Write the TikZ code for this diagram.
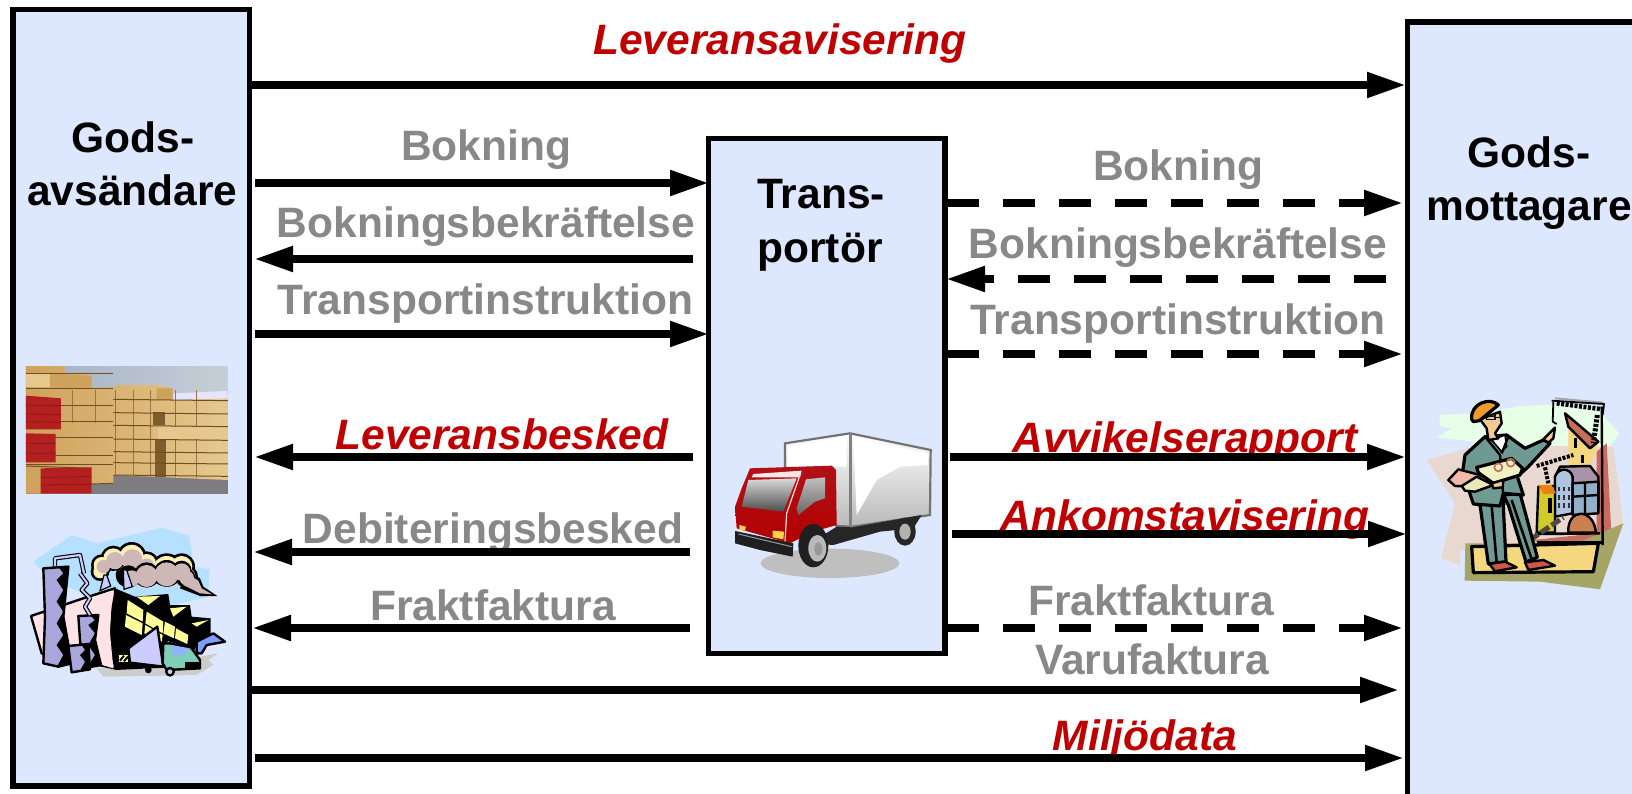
\documentclass[tikz,border=0pt]{standalone}
\usepackage{fontspec}
\setmainfont{Liberation Sans}
\usetikzlibrary{arrows.meta}
\definecolor{boxfill}{HTML}{DDE8FF}
\definecolor{greytxt}{HTML}{888888}
\definecolor{redtxt}{HTML}{C00000}
\definecolor{wood}{HTML}{D9B26E}
\definecolor{woodl}{HTML}{E6C88E}
\definecolor{woodm}{HTML}{CFA25C}
\definecolor{woodd}{HTML}{6E4E22}
\definecolor{woodred}{HTML}{B3201F}
\definecolor{woodrd}{HTML}{8C1815}
\definecolor{skyb}{HTML}{B5E0FF}
\definecolor{stack}{HTML}{A9A6DC}
\definecolor{smoke}{HTML}{CDB7B7}
\definecolor{creamc}{HTML}{FBF0B8}
\definecolor{pinkw}{HTML}{FFE3E6}
\definecolor{yellw}{HTML}{FFFF99}
\definecolor{tealc}{HTML}{80CDB8}
\definecolor{lil}{HTML}{CCCCFF}
\definecolor{suit}{HTML}{6F9A94}
\definecolor{helmet}{HTML}{EE9B2C}
\definecolor{skin}{HTML}{F3C992}
\definecolor{mint}{HTML}{E6FFE6}
\definecolor{beige}{HTML}{E8D8D0}
\definecolor{oliv}{HTML}{A5A566}
\definecolor{sandc}{HTML}{F5D77F}
\definecolor{rust}{HTML}{C76A60}
\definecolor{cabred}{HTML}{B01218}
\definecolor{skytop}{HTML}{A3AFC6}
\definecolor{skybot}{HTML}{C6CFD6}
\definecolor{ground}{HTML}{7E7C80}
\definecolor{tower}{HTML}{A893A8}
\definecolor{towerl}{HTML}{AFC4E0}
\definecolor{towerr}{HTML}{8FB0C8}
\definecolor{domec}{HTML}{CC8050}
\definecolor{planp}{HTML}{F2B8A8}
\definecolor{planq}{HTML}{E8E8B8}
\definecolor{planr}{HTML}{F0F0C0}
\tikzset{
  box/.style={draw=black,line width=5.4pt,fill=boxfill,anchor=north west,inner sep=0pt,outer sep=0pt},
  arrowsolid/.style={line width=8pt,-{Triangle[length=39pt,width=24pt]}},
  arrowdash/.style={arrowsolid,dash pattern=on 32pt off 24pt},
  head/.style={font=\fontsize{42.5}{44}\selectfont\bfseries,text=black,inner sep=0pt,anchor=base,yshift=-2.5pt},
  grey/.style={font=\fontsize{42.5}{44}\selectfont\bfseries,text=greytxt,inner sep=0pt,anchor=base,yshift=-2.5pt},
  red/.style={font=\fontsize{42.5}{44}\selectfont\bfseries\itshape,text=redtxt,inner sep=0pt,anchor=base,yshift=-2.5pt},
  ol/.style={draw=black,line width=2.4pt,line join=round},
  olm/.style={draw=black,line width=3.2pt,line join=round},
}
\begin{document}
\begin{tikzpicture}[x=1pt,y=-1pt]
\useasboundingbox (0,0) rectangle (1632,794);
\fill[white] (0,0) rectangle (1632,794);
\node[box,minimum width=236.5pt,minimum height=776.7pt] (send) at (13,9.3) {};
\node[box,minimum width=240pt,minimum height=790pt] (recv) at (1407.5,22) {};
\node[box,minimum width=236.5pt,minimum height=515pt] (carr) at (708.5,138.5) {};

% labels
\node[red] (l1) at (780,52) {Leveransavisering};
\node[head] (s1) at (133,150) {Gods-};
\node[head] (s2) at (132.5,203) {avsändare};
\node[head] (c1) at (821,206) {Trans-};
\node[head] (c2) at (820,260) {portör};
\node[head] (r1) at (1529,165) {Gods-};
\node[head] (r2) at (1529,218) {mottagare};
\node[grey] (g1) at (486,158) {Bokning};
\node[grey] (g2) at (486,235) {Bokningsbekräftelse};
\node[grey] (g3) at (485.5,312) {Transportinstruktion};
\node[red]  (g4) at (502,447) {Leveransbesked};
\node[grey] (g5) at (493,541) {Debiteringsbesked};
\node[grey] (g6) at (493,618) {Fraktfaktura};
\node[grey] (h1) at (1178,178) {Bokning};
\node[grey] (h2) at (1178,256) {Bokningsbekräftelse};
\node[grey] (h3) at (1178,332) {Transportinstruktion};
\node[red]  (h4) at (1185,450) {Avvikelserapport};
\node[red]  (h5) at (1185,528) {Ankomstavisering};
\node[grey] (h6) at (1151,613) {Fraktfaktura};
\node[grey] (h7) at (1152,672) {Varufaktura};
\node[red]  (h8) at (1145,748) {Miljödata};

% connector ends
\begin{scope}[yshift=-1pt]
\coordinate (a1) at (250,84);   \coordinate (b1) at (1406,84);
\coordinate (a2) at (255,182);  \coordinate (b2) at (709,182);
\coordinate (a3) at (693,258);  \coordinate (b3) at (254,258);
\coordinate (a4) at (255,333);  \coordinate (b4) at (709,333);
\coordinate (a5) at (693,456);  \coordinate (b5) at (254,456);
\coordinate (a6) at (690,551);  \coordinate (b6) at (253,551);
\coordinate (a7) at (690,627);  \coordinate (b7) at (252,627);
\coordinate (a8) at (947,202);  \coordinate (b8) at (1403,202);
\coordinate (a9) at (1386,278); \coordinate (b9) at (946,278);
\coordinate (a10) at (947,353); \coordinate (b10) at (1403,353);
\coordinate (a11) at (950,456); \coordinate (b11) at (1406,456);
\coordinate (a12) at (952,533); \coordinate (b12) at (1407,533);
\coordinate (a13) at (947,627); \coordinate (b13) at (1403,627);
\coordinate (a14) at (250,689); \coordinate (b14) at (1399,689);
\coordinate (a15) at (255,757); \coordinate (b15) at (1404,757);
\end{scope}
\draw[arrowsolid] (a1) -- (b1);
\draw[arrowsolid] (a2) -- (b2);
\draw[arrowsolid] (a3) -- (b3);
\draw[arrowsolid] (a4) -- (b4);
\draw[arrowsolid] (a5) -- (b5);
\draw[arrowsolid] (a6) -- (b6);
\draw[arrowsolid] (a7) -- (b7);
\draw[arrowdash] (a8) -- (b8);
\draw[arrowdash] (a9) -- (b9);
\draw[arrowdash] (a10) -- (b10);
\draw[arrowsolid] (a11) -- (b11);
\draw[arrowsolid] (a12) -- (b12);
\draw[arrowdash] (a13) -- (b13);
\draw[arrowsolid] (a14) -- (b14);
\draw[arrowsolid] (a15) -- (b15);

% timber photo
\begin{scope}[shift={(0,340)},scale=1/3]
\begin{scope}
\clip (78,78) rectangle (684,461);
\shade[left color=skytop,right color=skybot] (78,78) rectangle (684,200);
\fill[ground] (78,400) rectangle (684,461);
\shade[left color=woodm,right color=woodl] (78,78)--(195,78)--(195,100)--(275,105)--(275,145)--(345,140)--(345,135)--(470,135)--(518,145)--(518,180)--(684,175)--(684,420)--(500,412)--(340,405)--(340,430)--(275,432)--(275,461)--(78,461)--cycle;
\fill[woodl] (78,100) rectangle (195,140);
\fill[woodm] (150,100)--(275,108)--(275,145)--(150,145)--cycle;
\fill[white!90!blue] (520,160)--(680,153)--(684,175)--(520,180)--cycle;
\fill[woodm] (470,145)--(518,145)--(518,180)--(470,178)--cycle;
\foreach \xx/\yb in {218/250,285/250,345/405,400/405,450/405,525/412,590/415}{\draw[woodd!60!wood,line width=.8pt] (\xx,150) -- (\xx,\yb);}
\fill[woodd!85!wood] (460,215) rectangle (495,255);
\fill[woodd!85!wood] (465,300) rectangle (497,412);
\fill[woodl] (475,260) rectangle (684,297);
\foreach \yy in {100,145,195,245,292,345,372}{\draw[woodd,line width=1pt] (78,\yy) -- (340,\yy);}
\foreach \yy in {178,218,256,297,335,368,405}{\draw[woodd,line width=1pt] (340,\yy) -- (684,\yy+4);}
\draw[woodd,line width=1pt] (275,432)--(340,430) (78,378)--(275,385);
\fill[woodred] (78,167)--(183,175)--(183,268)--(78,268)--cycle;
\fill[woodred] (78,280)--(167,282)--(167,367)--(78,367)--cycle;
\fill[woodred] (122,385)--(275,382)--(275,461)--(122,461)--cycle;
\draw[woodrd,line width=.8pt] (78,195)--(183,197) (78,222)--(183,224) (78,245)--(183,247) (78,310)--(167,310) (78,340)--(167,340) (122,412)--(275,410) (122,435)--(275,433);
\end{scope}

% factory
\fill[skyb] (100,665)--(215,585)--(290,610)--(485,563)--(567,587)--(582,680)--(628,688)--(625,770)--(500,800)--(300,780)--(150,720)--cycle;
\fill[gray!40] (290,985)--(460,985)--(600,950)--(655,940)--(625,960)--(640,975)--(590,1005)--(330,1010)--(310,1010)--cycle;
% cloud
\foreach \cx/\cy/\rr in {305/675/24,300/695/20,340/655/30,395/650/36,440/670/28,385/705/30,440/695/38,500/690/42,545/680/32,560/710/26}{\fill[black] (\cx,\cy) circle (\rr+8);}
\fill[black] (560,690)--(600,715)--(610,740)--(652,768)--(600,768)--(540,745)--cycle;
\foreach \cx/\cy/\rr in {305/675/24,300/695/20,340/655/30,395/650/36,440/670/28,385/705/30,440/695/38,500/690/42,545/680/32,560/710/26}{\fill[creamc] (\cx,\cy) circle (\rr);}
\foreach \cx/\cy/\rr in {310/680/20,345/662/26,397/658/30,440/680/24}{\fill[smoke] (\cx,\cy) circle (\rr);}
\foreach \cx/\cy/\rr in {385/708/30,440/705/36,500/700/38,545/692/28,560/712/24}{\fill[black] (\cx,\cy) circle (\rr+2);}
\foreach \cx/\cy/\rr in {395/715/24,440/708/33,500/703/36,545/696/26,560/714/22}{\fill[smoke] (\cx,\cy) circle (\rr);}
\fill[smoke] (560,700)--(595,722)--(605,745)--(636,763)--(600,760)--(550,735)--cycle;
% pink wall
\path[ol,fill=pinkw] (93,828)--(250,775)--(345,745)--(345,985)--(125,940)--cycle;
% black buildings
\fill[black] (345,745)--(405,770)--(505,762)--(510,795)--(570,795)--(575,830)--(632,835)--(632,890)--(590,915)--(560,980)--(345,990)--(325,920)--(335,800)--cycle;
\fill[pinkw] (285,770)--(335,752)--(330,880)--(340,985)--(290,970)--cycle;
\fill[yellw] (383,780)--(430,810)--(428,845)--(380,820)--cycle;
\fill[yellw] (378,825)--(428,850)--(425,885)--(375,860)--cycle;
\fill[yellw] (440,815)--(490,845)--(488,880)--(436,850)--cycle;
\fill[yellw] (436,855)--(488,885)--(486,905)--(433,880)--cycle;
\fill[yellw] (495,845)--(525,860)--(522,895)--(490,880)--cycle;
\fill[yellw] (528,865)--(565,885)--(562,912)--(525,895)--cycle;
\fill[yellw] (410,770)--(480,768)--(445,795)--cycle;
\fill[yellw] (510,805)--(560,800)--(520,830)--cycle;
\fill[yellw] (575,850)--(625,840)--(590,860)--cycle;
\fill[lil,draw=black,line width=1.2pt] (370,690)--(380,690)--(397,740)--(372,748)--cycle;
\fill[lil,draw=black,line width=1.2pt] (312,705)--(320,705)--(332,738)--(300,752)--cycle;
% chimneys
\draw[black,line width=4.4pt,line join=round] (165,680)--(165,655)--(240,645)--(252,700);
\draw[lil,line width=2.2pt,line join=round] (165,678)--(165,655)--(240,645)--(252,700);
\path[ol,fill=stack] (130,685)--(205,680)--(190,830)--(215,970)--(175,980)--(130,970)--(135,830)--cycle;
\fill[black] (178,684)--(207,680)--(192,830)--(218,972)--(170,982)--(190,945)--(170,915)--(190,885)--(170,850)--(190,815)--(170,785)--(190,750)--(170,720)--(190,700)--cycle;
\path[ol,fill=stack] (235,828)--(295,825)--(285,900)--(303,975)--(250,985)--(240,900)--cycle;
\fill[black] (272,828)--(297,825)--(287,900)--(305,975)--(262,982)--(285,945)--(265,915)--(285,880)--(265,855)--(285,840)--cycle;
\path[ol,fill=stack] (205,918)--(265,912)--(270,988)--(215,997)--cycle;
\fill[black] (245,915)--(266,912)--(271,988)--(240,993)--(255,965)--(240,945)--(255,930)--cycle;
\draw[black,line width=4.4pt,line join=round] (240,700)--(262,730)--(245,750)--(270,775)--(255,800)--(270,825);
\draw[lil,line width=2pt,line join=round] (240,700)--(262,730)--(245,750)--(270,775)--(255,800)--(270,825);
% little truck
\fill[yellw] (358,945) rectangle (385,965);
\draw[black,line width=2pt] (360,962)--(372,947) (372,964)--(384,950);
\path[ol,fill=lil] (385,925)--(472,860)--(490,980)--(390,968)--cycle;
\path[ol,fill=pinkw] (490,895)--(550,915)--(510,920)--cycle;
\path[ol,fill=tealc] (490,910)--(510,910)--(575,925)--(600,960)--(600,985)--(500,990)--(488,970)--cycle;
\fill[skyb!80!blue] (515,915)--(570,925)--(550,945)--(520,945)--cycle;
\fill[black] (510,995) circle (15);
\fill[lil] (510,995) circle (7);
\fill[black] (445,990) circle (10);
\fill[black] (555,965) rectangle (598,985);
\path[ol,fill=skyb!70!blue] (590,905)--(640,880)--(675,905)--(620,915)--(605,940)--(590,940)--cycle;
\end{scope}

% truck picture
\begin{scope}[shift={(700,400)},scale=1/3]
\fill[gray!50] (390,490) ellipse (208 and 44);
\shade[top color=white,bottom color=gray!55,draw=gray!90!black,line width=2.2pt] (255,130)--(450,100)--(692,150)--(690,345)--(458,380)--(410,378)--(255,205)--cycle;
\fill[white] (460,115)--(685,160)--(683,195)--(600,200)--(530,240)--(470,345)--cycle;
\fill[white] (262,140)--(440,112)--(440,200)--(262,200)--cycle;
\draw[gray,line width=3pt] (450,100)--(450,380);
\fill[black!85] (410,380)--(458,382)--(665,345)--(640,385)--(540,395)--(400,435)--(330,430)--cycle;
\fill[black!85] (615,395) ellipse (32 and 42);
\fill[gray!60] (615,395) ellipse (17 and 24);
\shade[top color=cabred,bottom color=red!70!black] (150,205)--(395,197)--(408,210)--(410,375)--(340,395)--(270,430)--(110,385)--(105,320)--(125,265)--cycle;
\fill[white!90!red] (160,222)--(305,212)--(300,232)--(155,232)--cycle;
\shade[top color=gray!30,bottom color=black!70] (145,240)--(290,235)--(250,335)--(125,320)--cycle;
\shade[top color=gray!50,bottom color=black!60] (318,238)--(375,232)--(375,295)--(345,305)--(295,345)--(290,325)--cycle;
\draw[white!85!red,line width=1.2pt] (300,225)--(260,340)--(255,425);
\fill[black!88] (105,393)--(280,430)--(278,470)--(180,450)--(105,430)--cycle;
\draw[gray!80,line width=1pt] (115,402)--(275,440);
\fill[orange!50!yellow!70] (218,392)--(252,395)--(250,418)--(218,412)--cycle;
\fill[orange!60!yellow!70] (118,375)--(138,380)--(135,392)--(118,388)--cycle;
\fill[black!88] (340,437) ellipse (45 and 65);
\fill[gray!55] (352,445) ellipse (27 and 40);
\fill[gray!80] (355,447) ellipse (12 and 20);
\end{scope}

% man with buildings
\begin{scope}[shift={(1380,380)},scale=1/3]
\fill[mint] (180,105)--(300,100)--(420,78)--(520,75)--(650,85)--(718,160)--(680,215)--(400,200)--(240,180)--(170,172)--(215,145)--(178,138)--cycle;
\fill[beige] (140,240)--(300,195)--(700,200)--(730,430)--(660,480)--(240,510)--(240,555)--(183,535)--(225,370)--cycle;
\fill[rust] (650,215)--(680,190)--(695,480)--(480,490)--(460,480)--(650,460)--cycle;
\fill[oliv] (256,490)--(590,490)--(730,430)--(660,628)--(480,605)--(254,602)--cycle;
\path[olm,fill=sandc] (275,500)--(655,490)--(640,575)--(280,578)--cycle;
% crane and building
\draw[gray!70,line width=2pt] (525,55)--(670,68);
\draw[black,line width=4.5pt,dash pattern=on 3pt off 1.5pt] (530,70)--(668,88);
\draw[black,line width=1.8pt] (515,62)--(672,72)--(668,105);
\draw[black,line width=1.8pt] (520,65)--(518,125)--(530,132);
\fill[sandc] (565,130)--(655,190)--(630,260)--(565,260)--cycle;
\path[ol,fill=rust!70!brown] (555,100)--(655,185)--(630,205)--(565,140)--cycle;
\draw[black,line width=3pt] (585,175)--(585,205);
\draw[black,line width=3pt] (608,225)--(608,250);
\draw[black,line width=5pt,dash pattern=on 3pt off 1.5pt] (652,105)--(640,190);
\draw[black,line width=2.4pt] (665,80)--(668,495);
\draw[black,line width=4pt,dash pattern=on 3pt off 1.5pt] (470,258)--(580,225);
\draw[black,line width=4pt,dash pattern=on 3pt off 1.5pt] (495,262)--(505,310);
\path[ol,fill=tower] (525,290)--(540,260)--(630,258)--(655,290)--(655,385)--(525,400)--cycle;
\path[ol,fill=towerl] (525,290) .. controls (535,262) and (570,262) .. (578,290) -- (578,400)--(525,410)--cycle;
\path[ol,fill=towerr] (578,310)--(655,305)--(655,400)--(578,405)--cycle;
\draw[black,line width=2.4pt] (578,350)--(655,345) (615,308)--(615,400);
\path[ol,fill=yellow!50!olive!80] (475,320)--(525,318)--(525,458)--(470,458)--cycle;
\fill[orange!70!brown] (475,315)--(515,315)--(528,340)--(490,342)--cycle;
\fill[black] (505,355) rectangle (515,400);
\foreach \xx in {535,550,565}{\foreach \yy in {320,345,370}{\fill[black!80] (\xx,\yy) rectangle (\xx+6,\yy+14);}}
\path[ol,fill=domec] (565,458) .. controls (560,385) and (640,380) .. (648,458) -- cycle;
\draw[black,line width=2.6pt] (465,462)--(660,460);
\draw[black!80!yellow,line width=5pt,dash pattern=on 10pt off 3pt] (450,480)--(550,412);
\draw[black,line width=3pt] (470,488)--(668,488);
% man: legs
\path[olm,fill=suit] (288,372)--(375,345)--(370,380)--(378,545)--(325,552)--(300,375)--cycle;
\path[olm,fill=suit] (370,345)--(420,340)--(472,532)--(438,546)--(385,375)--cycle;
\draw[black,line width=2.6pt] (335,378)--(350,548) (395,360)--(455,538);
\path[ol,fill=rust!80!red] (328,552)--(375,545)--(410,562)--(345,574)--cycle;
\path[ol,fill=rust!80!red] (435,547)--(490,540)--(525,557)--(445,570)--cycle;
% torso
\path[olm,fill=suit] (280,372)--(248,275)--(255,225)--(315,170)--(380,165)--(435,205)--(490,180)--(510,190)--(445,260)--(412,290)--(430,345)--(370,340)--(360,378)--cycle;
\path[draw=black,line width=1.6pt,fill=white] (335,180)--(375,165)--(380,200)--(365,215)--cycle;
\draw[black,line width=2.4pt] (315,170)--(360,225)--(370,350) (385,170)--(365,220);
% rolled plans
\path[ol,fill=planp] (205,300)--(235,268)--(300,285)--(300,320)--(225,318)--cycle;
\path[ol,fill=planq] (245,318)--(290,290)--(340,315)--(285,335)--(255,332)--cycle;
\path[olm,fill=planr] (290,262)--(395,235)--(428,265)--(420,285)--(340,310)--(295,278)--cycle;
\draw[rust,line width=1.6pt] (355,262) circle (12) (392,248) circle (12);
% hand, head
\path[ol,fill=skin] (335,310)--(370,300)--(368,322)--(340,325)--cycle;
\path[ol,fill=skin] (490,178)--(525,143)--(520,175)--(505,188)--cycle;
\path[ol,fill=skin] (300,118)--(360,95)--(365,130)--(345,160)--(355,175)--(325,180)--(320,145)--cycle;
\path[olm,fill=helmet] (275,118) .. controls (270,70) and (330,50) .. (355,75) -- (298,122) -- (280,125) -- cycle;
\draw[black,line width=1.4pt] (320,110) rectangle (345,118) (345,100) rectangle (362,112);
\end{scope}
\end{tikzpicture}
\end{document}
